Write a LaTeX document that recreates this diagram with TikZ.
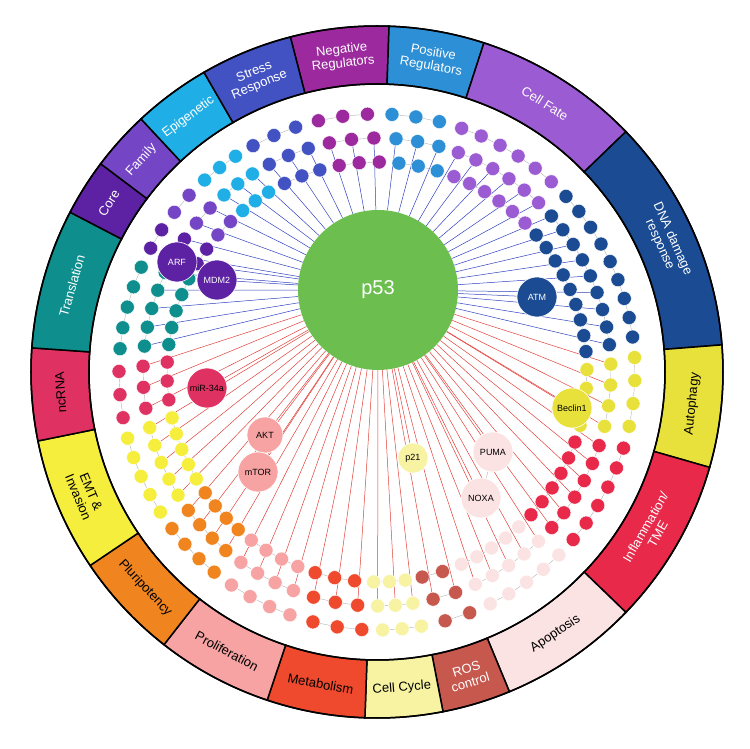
\documentclass[tikz,border=0pt]{standalone}
\usepackage{fontspec}
\setmainfont{Liberation Sans}
\usetikzlibrary{backgrounds}
\definecolor{gP}{HTML}{6CBF4E}
\definecolor{s1}{HTML}{9C2A9E}\definecolor{s2}{HTML}{2D8FD5}\definecolor{s3}{HTML}{9B5BD3}
\definecolor{s4}{HTML}{1A4B93}\definecolor{s5}{HTML}{E9E13B}\definecolor{s6}{HTML}{E8294A}
\definecolor{s7}{HTML}{FCE3E3}\definecolor{s8}{HTML}{C6584E}\definecolor{s9}{HTML}{F7F3A2}
\definecolor{s10}{HTML}{EF4A2E}\definecolor{s11}{HTML}{F7A3A3}\definecolor{s12}{HTML}{F0851F}
\definecolor{s13}{HTML}{F6EE3C}\definecolor{s14}{HTML}{E03262}\definecolor{s15}{HTML}{0F8E8E}
\definecolor{s16}{HTML}{5D22A3}\definecolor{s17}{HTML}{7446C6}\definecolor{s18}{HTML}{1FAEE5}
\definecolor{s19}{HTML}{4352C2}
\definecolor{lr}{HTML}{E0403A}\definecolor{lb}{HTML}{3040C0}
\tikzset{
 small/.style={circle,draw=white,line width=0.4pt,minimum size=14pt,inner sep=0pt},
 big/.style={circle,draw=white,line width=0.6pt,inner sep=0pt,font=\fontsize{9}{10}\selectfont},
 seclab/.style={font=\fontsize{13}{14}\selectfont,align=center},
 link/.style={line width=0.5pt},
 glink/.style={gray!60,line width=0.4pt}
}
\begin{document}
\begin{tikzpicture}[x=1pt,y=1pt]
\useasboundingbox (-377,-377) rectangle (373,372);
\node[circle,fill=gP,minimum size=160pt,inner sep=0pt,text=white,font=\fontsize{20}{22}\selectfont] (p53) at (1,82) {p53};
\foreach \a/\b/\col/\tc/\lc/\lab [count=\k] in {
 104.5/88/s1/white/lb/{Negative\\Regulators},
 88/72/s2/white/lb/{Positive\\Regulators},
 72/44/s3/white/lb/{Cell Fate},
 44/4.5/s4/white/lb/{DNA damage\\response},
 4.5/-16/s5/black/lr/{Autophagy},
 -16/-44/s6/white/lr/{Inflammation/\\TME},
 -44/-67.5/s7/black/lr/{Apoptosis},
 -67.5/-79/s8/white/lr/{ROS\\control},
 -79/-92/s9/black/lr/{Cell Cycle},
 -92/-108.5/s10/black/lr/{Metabolism},
 -108.5/-128/s11/black/lr/{Proliferation},
 -128/-146/s12/black/lr/{Pluripotency},
 -146/-168.5/s13/black/lr/{EMT \&\\Invasion},
 -168.5/-184/s14/black/lr/{ncRNA},
 -184/-207.5/s15/white/lb/{Translation},
 -207.5/-217/s16/white/lb/{Core},
 -217/-227/s17/white/lb/{Family},
 -227/-240/s18/white/lb/{Epigenetic},
 -240/-255.5/s19/white/lb/{Stress\\Response}}{
 \fill[\col,draw=black,line width=1.5pt] (\a:288) arc[start angle=\a,end angle=\b,radius=288] -- (\b:346) arc[start angle=\b,end angle=\a,radius=346] -- cycle;
 \pgfmathsetmacro\m{(\a+\b)/2}
 \pgfmathsetmacro\rot{sin(\m)>-0.1 ? \m-90 : \m+90}
 \node[seclab,text=\tc,rotate=\rot] (lab\k) at (\m:317) {\lab};
 \foreach \row/\rr in {0/258,1/234,2/210}{
  \pgfmathsetmacro\w{\a-\b}
  \pgfmathtruncatemacro\n{max(1,\w/4.3)}
  \foreach \i in {1,...,\n}{
   \pgfmathsetmacro\ang{\a-(\i-0.5+(\row-1)*0.25)*\w/\n}
   \node[small,fill=\col] (n\k-\row-\i) at (\ang:\rr) {};
   \begin{pgfonlayer}{background}
    \ifnum\row=1 \draw[link,\lc] (p53) -- (n\k-\row-\i);\fi
    \ifnum\i>1 \pgfmathtruncatemacro\j{\i-1}\draw[glink] (n\k-\row-\j) -- (n\k-\row-\i);\fi
   \end{pgfonlayer}
  }
 }
}
\draw[line width=1.5pt] (0,0) circle[radius=288];
\draw[line width=1.5pt] (0,0) circle[radius=346];
\node[big,fill=s16,minimum size=40pt,text=white] (arf) at (-200,110) {ARF};
\node[big,fill=s16,minimum size=40pt,text=white] (mdm2) at (-160,92) {MDM2};
\node[big,fill=s4,minimum size=40pt,text=white] (atm) at (160,75) {ATM};
\node[big,fill=s5,minimum size=40pt] (beclin) at (195,-36) {Beclin1};
\node[big,fill=s14,minimum size=40pt] (mir) at (-170,-16) {miR-34a};
\node[big,fill=s11,minimum size=36pt] (akt) at (-112,-63) {AKT};
\node[big,fill=s11,minimum size=40pt] (mtor) at (-119,-100) {mTOR};
\node[big,fill=s9,minimum size=30pt] (p21) at (36,-86) {p21};
\node[big,fill=s7,minimum size=40pt] (puma) at (116,-80) {PUMA};
\node[big,fill=s7,minimum size=40pt] (noxa) at (104,-126) {NOXA};
\begin{pgfonlayer}{background}
\foreach \t/\c in {arf/lb,mdm2/lb,atm/lb,beclin/lr,mir/lr,akt/lr,mtor/lr,p21/lr,puma/lr,noxa/lr}{\draw[link,\c] (p53) -- (\t);}
\draw[glink] (arf) -- (mdm2); \draw[glink] (akt) -- (mtor); \draw[glink] (puma) -- (noxa);
\end{pgfonlayer}
\end{tikzpicture}
\end{document}
